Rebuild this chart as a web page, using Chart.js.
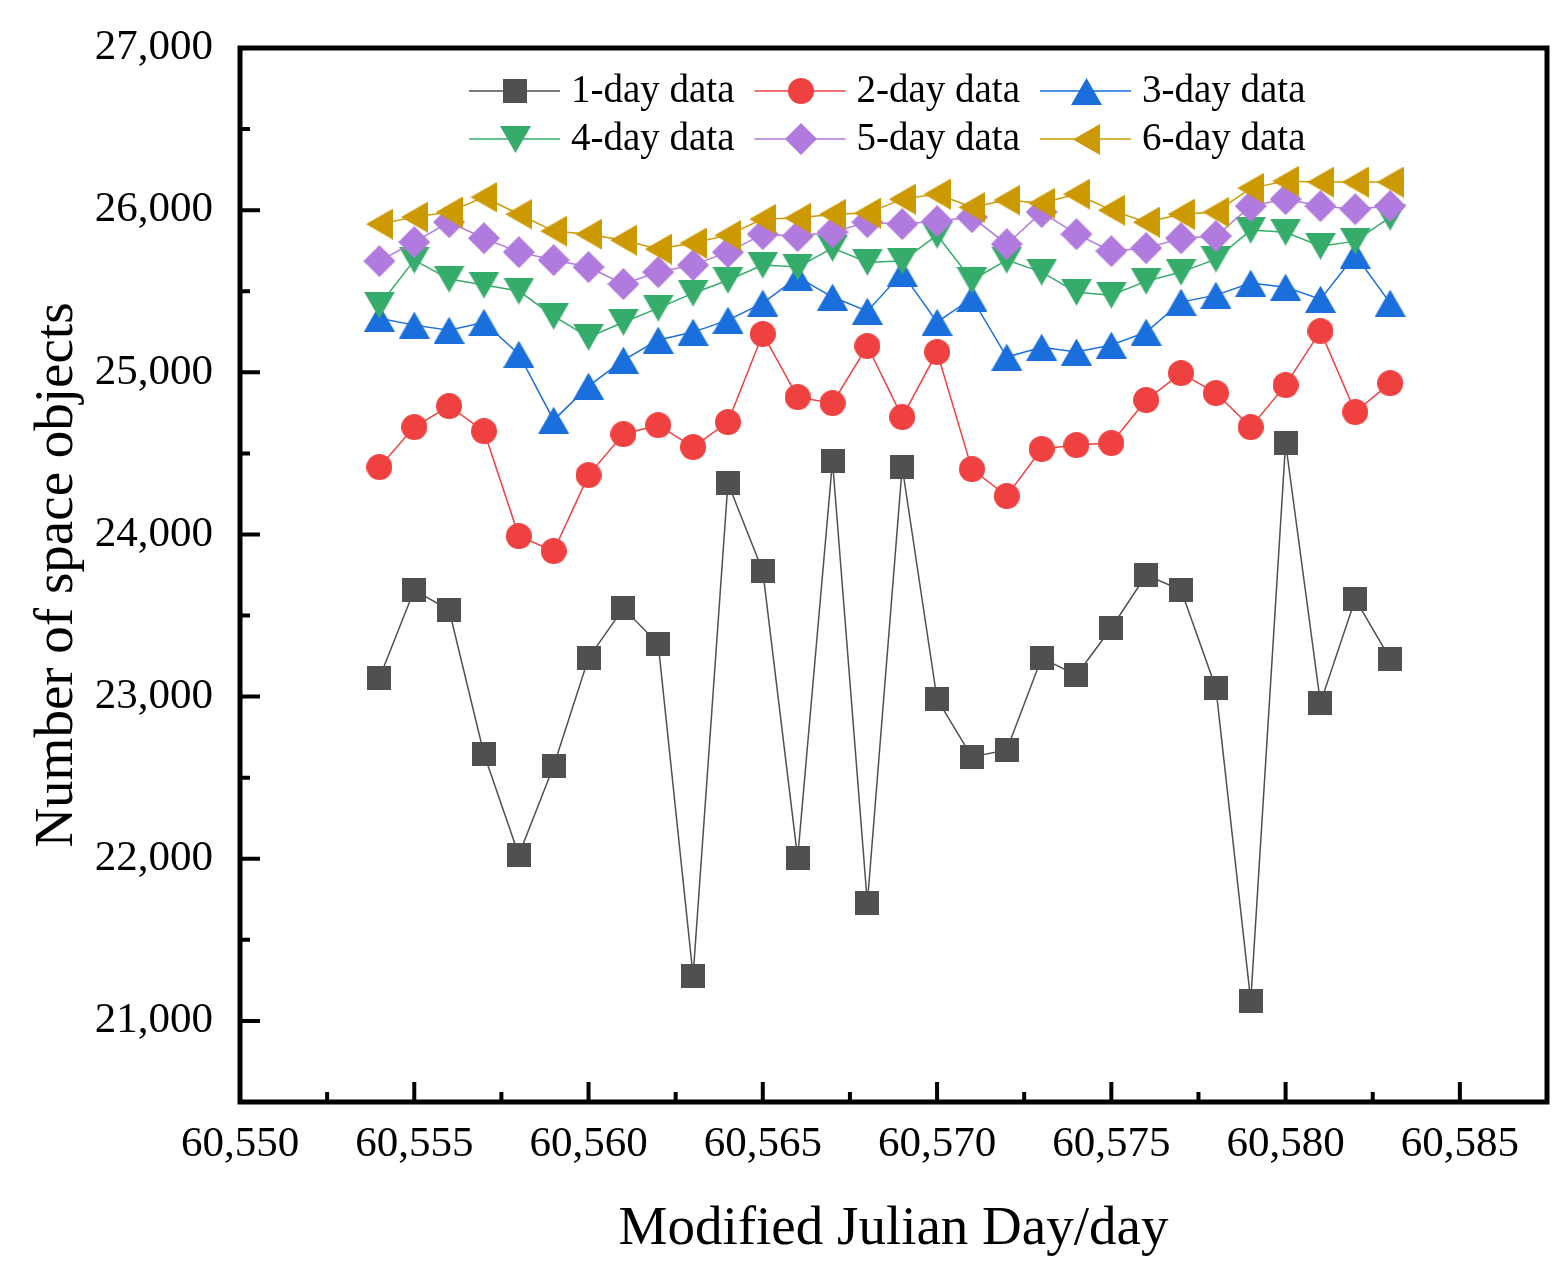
<!DOCTYPE html>
<html>
<head>
<meta charset="utf-8">
<script src="https://cdn.jsdelivr.net/npm/chart.js@4.4.1/dist/chart.umd.min.js"></script>
<style>
html,body{margin:0;padding:0;background:#ffffff;}
#wrap{width:1566px;height:1270px;position:relative;}
</style>
</head>
<body>
<div id="wrap"><canvas id="c" width="1566" height="1270"></canvas></div>
<script>
// ---- data ----
const days = [60554,60555,60556,60557,60558,60559,60560,60561,60562,60563,60564,60565,60566,60567,60568,60569,60570,60571,60572,60573,60574,60575,60576,60577,60578,60579,60580,60581,60582,60583];
const oneDay   = [23115,23657,23534,22646,22023,22572,23238,23546,23324,21277,24317,23774,22005,24453,21727,24416,22985,22628,22671,23238,23133,23423,23750,23657,23053,21123,24564,22961,23602,23232];
const twoDay   = [24416,24662,24792,24637,23990,23898,24366,24619,24674,24539,24693,25236,24847,24810,25162,24724,25125,24403,24237,24527,24551,24564,24829,24995,24872,24662,24921,25254,24755,24933];
const threeDay = [25334,25291,25260,25309,25112,24705,24915,25075,25199,25248,25322,25427,25587,25464,25377,25612,25309,25457,25094,25155,25125,25168,25248,25433,25476,25550,25525,25451,25723,25427];
const fourDay  = [25414,25692,25575,25538,25501,25346,25217,25309,25396,25488,25568,25661,25649,25766,25679,25686,25846,25568,25692,25618,25494,25476,25562,25618,25698,25877,25864,25778,25809,25957];
const fiveDay  = [25686,25803,25926,25827,25741,25692,25649,25544,25618,25661,25741,25852,25840,25864,25926,25914,25932,25957,25790,25988,25852,25747,25766,25827,25840,26025,26068,26025,26006,26025];
const sixDay   = [25914,25957,25988,26080,25975,25871,25852,25815,25760,25797,25846,25945,25951,25975,25982,26068,26099,26018,26062,26043,26099,26000,25926,25975,25988,26136,26179,26173,26173,26173];
const seriesNames = ['1-day data','2-day data','3-day data','4-day data','5-day data','6-day data'];
const xTickValues = [60550,60555,60560,60565,60570,60575,60580,60585];
const yTickValues = [21000,22000,23000,24000,25000,26000,27000];

// ---- styles ----
const seriesData = [oneDay,twoDay,threeDay,fourDay,fiveDay,sixDay];
const colors = ['#505050','#F04141','#1A6FDC','#36AC6B','#B07ADE','#CC9900'];
const shapes = ['square','circle','up','down','diamond','left'];
const FONT = '"Liberation Serif","Times New Roman",serif';

function makeMarker(shape, color){
  const c = document.createElement('canvas');
  let w, h;
  if (shape==='square'){w=24;h=24;}
  else if (shape==='circle'){w=26;h=26;}
  else if (shape==='up'||shape==='down'){w=31;h=27;}
  else if (shape==='diamond'){w=32;h=32;}
  else {w=27;h=31;}
  c.width=w; c.height=h;
  const g = c.getContext('2d');
  g.fillStyle = color;
  g.beginPath();
  if (shape==='square'){g.rect(0,0,w,h);}
  else if (shape==='circle'){g.arc(w/2,h/2,w/2,0,Math.PI*2);}
  else if (shape==='up'){g.moveTo(w/2,0);g.lineTo(w,h);g.lineTo(0,h);g.closePath();}
  else if (shape==='down'){g.moveTo(0,0);g.lineTo(w,0);g.lineTo(w/2,h);g.closePath();}
  else if (shape==='diamond'){g.moveTo(w/2,0);g.lineTo(w,h/2);g.lineTo(w/2,h);g.lineTo(0,h/2);g.closePath();}
  else {g.moveTo(0,h/2);g.lineTo(w,0);g.lineTo(w,h);g.closePath();}
  g.fill();
  return c;
}
const markers = shapes.map((s,i)=>makeMarker(s,colors[i]));

const datasets = seriesData.map((arr,i)=>({
  label: seriesNames[i],
  data: days.map((d,k)=>({x:d,y:arr[k]})),
  borderColor: colors[i],
  backgroundColor: colors[i],
  borderWidth: 1.5,
  pointStyle: markers[i],
  pointRadius: 13,
  pointHoverRadius: 13,
  tension: 0,
  fill: false,
  order: 5 - i,
  clip: false
}));

const framePlugin = {
  id: 'frame',
  afterDraw(chart){
    const {ctx, chartArea:a, scales:{x, y}} = chart;
    ctx.save();
    ctx.strokeStyle = '#000';
    ctx.lineWidth = 5;
    ctx.strokeRect(a.left, a.top, a.right-a.left, a.bottom-a.top);
    ctx.lineWidth = 4;
    ctx.beginPath();
    // x ticks (inward)
    for (let v=60550; v<=60587.5; v+=2.5){
      const px = x.getPixelForValue(v);
      const major = (v % 5) === 0;
      ctx.moveTo(px, a.bottom);
      ctx.lineTo(px, a.bottom - (major?20:10));
    }
    // y ticks (inward)
    for (let v=20500; v<=27000; v+=500){
      const py = y.getPixelForValue(v);
      const major = (v % 1000) === 0;
      ctx.moveTo(a.left, py);
      ctx.lineTo(a.left + (major?20:10), py);
    }
    ctx.stroke();

    // legend
    ctx.font = '39px ' + FONT;
    ctx.textBaseline = 'middle';
    ctx.textAlign = 'left';
    for (let i=0;i<6;i++){
      const col = i%3, row = Math.floor(i/3);
      const x0 = 469 + col*285.5;
      const yy = 91 + row*48;
      ctx.strokeStyle = colors[i];
      ctx.lineWidth = 1.5;
      ctx.beginPath();
      ctx.moveTo(x0, yy); ctx.lineTo(x0+91, yy);
      ctx.stroke();
      const m = markers[i];
      ctx.drawImage(m, Math.round(x0+46-m.width/2), Math.round(yy-m.height/2));
      ctx.fillStyle = '#000';
      ctx.fillText(seriesNames[i], x0+102, yy+1);
    }
    ctx.restore();
  }
};

new Chart(document.getElementById('c'), {
  type: 'line',
  data: { datasets },
  options: {
    responsive: false,
    animation: false,
    events: [],
    layout: { padding: { top: 48, right: 19, left: 0, bottom: 0 } },
    plugins: { legend: { display: false }, tooltip: { enabled: false } },
    scales: {
      x: {
        type: 'linear',
        min: 60550, max: 60587.5,
        afterFit(s){ s.height = 168; s.paddingLeft = 0; s.paddingRight = 0; },
        afterBuildTicks(s){ s.ticks = xTickValues.map(v=>({value:v})); },
        grid: { display: false, drawTicks: false },
        border: { display: false },
        ticks: {
          padding: 17,
          color: '#000',
          font: { family: FONT, size: 43 },
          maxRotation: 0,
          autoSkip: false,
          callback: v => Number(v).toLocaleString('en-US')
        },
        title: {
          display: true,
          text: 'Modified Julian Day/day',
          color: '#000',
          font: { family: FONT, size: 55 },
          padding: { top: 0, bottom: 7 }
        }
      },
      y: {
        type: 'linear',
        min: 20500, max: 27000,
        afterFit(s){ s.width = 240; s.paddingTop = 0; s.paddingBottom = 0; },
        afterBuildTicks(s){ s.ticks = yTickValues.map(v=>({value:v})); },
        grid: { display: false, drawTicks: false },
        border: { display: false },
        ticks: {
          padding: 27,
          color: '#000',
          font: { family: FONT, size: 43 },
          autoSkip: false,
          callback: v => Number(v).toLocaleString('en-US')
        },
        title: {
          display: true,
          text: 'Number of space objects',
          color: '#000',
          font: { family: FONT, size: 55 },
          padding: { top: 25, bottom: 0 }
        }
      }
    }
  },
  plugins: [framePlugin]
});
</script>
</body>
</html>
